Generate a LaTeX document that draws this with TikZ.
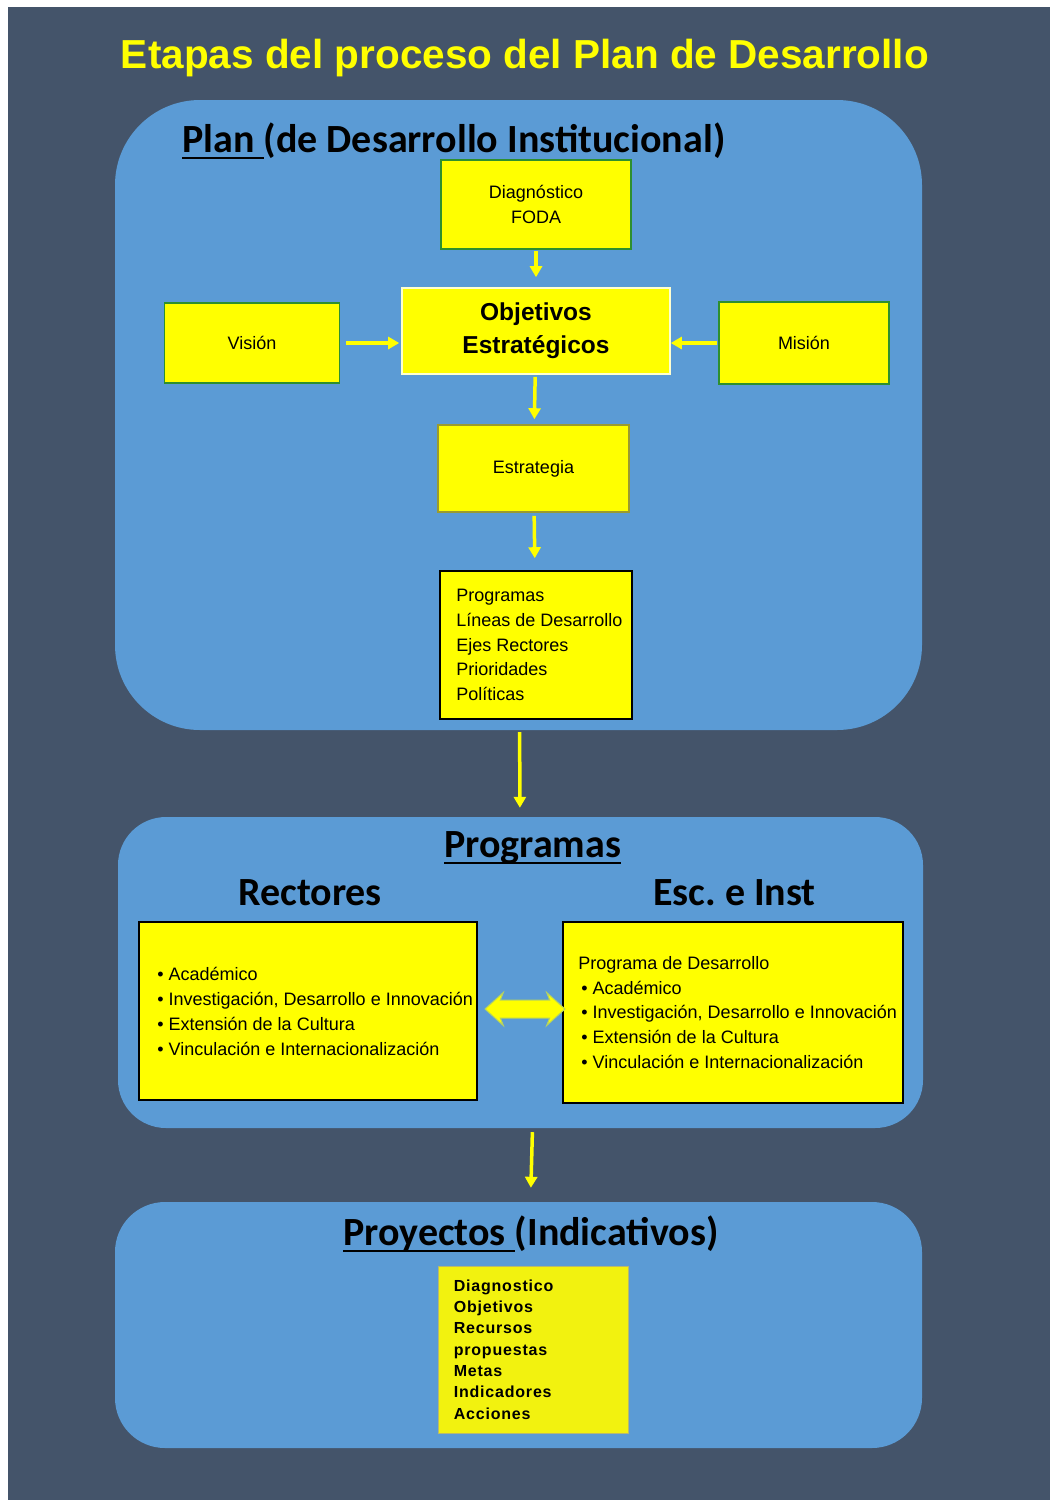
\documentclass[tikz,border=0pt]{standalone}
\usepackage{fontspec}
\setmainfont{Liberation Sans}
\newfontfamily\calibri{Carlito}
\newfontfamily\espaciada[LetterSpace=5]{Liberation Sans}
\usetikzlibrary{arrows.meta,shapes.arrows}
\definecolor{fondo}{HTML}{44546A}
\definecolor{panel}{HTML}{5B9BD5}
\definecolor{amarillo}{HTML}{FFFF00}
\definecolor{amarillob}{HTML}{F2F20F}
\definecolor{verde}{HTML}{2E8F2E}
\definecolor{oliva}{HTML}{9A9A30}
\definecolor{crema}{HTML}{FFFFD0}
\newlength{\anchosub}
\newcommand{\subrayado}[1]{\settowidth{\anchosub}{#1}\rlap{\rule[-6.5pt]{\anchosub}{2pt}}#1}
\tikzset{
  vpanel/.style={fill=panel,inner sep=0pt},
  vcaja/.style={fill=amarillo,line width=1.6pt,inner sep=0pt,align=center,font=\fontsize{18}{25}\selectfont},
  vtexto/.style={anchor=west,align=left,inner sep=0pt,font=\fontsize{18}{25}\selectfont},
  vtitulo/.style={anchor=base west,inner sep=0pt,font=\fontsize{40}{44}\selectfont\calibri\bfseries},
  varr/.style={-{Triangle[length=11pt,width=12pt]},line width=3.5pt,draw=amarillo},
  vdoble/.style={double arrow,fill=amarillo,draw=amarillo!55!panel,line width=1pt,minimum height=80pt,minimum width=32pt,
    double arrow head extend=7.5pt,double arrow tip angle=84,double arrow head indent=3pt,inner xsep=0pt,inner ysep=8.5pt}
}

\begin{document}
\begin{tikzpicture}[x=1pt,y=-1pt]
  \useasboundingbox (0,0) rectangle (1050,1500);
  \fill[white] (0,0) rectangle (1050,1500);
  \fill[fondo] (8,7) rectangle (1050,1500);
  \node[anchor=base,inner sep=0pt,text=amarillo,font=\fontsize{40.5}{45}\selectfont\bfseries] (titulo) at (525,68) {Etapas del proceso del Plan de Desarrollo};

  \node[vpanel,rounded corners=85pt,minimum width=807pt,minimum height=630pt] (plan) at (518.5,415) {};
  \node[vpanel,rounded corners=48pt,minimum width=805pt,minimum height=311pt] (programas) at (520.5,972.5) {};
  \node[vpanel,rounded corners=50pt,minimum width=807pt,minimum height=246pt] (proyectos) at (518.5,1325) {};

  \node[vtitulo] (tplan) at (182,152) {\subrayado{Plan\ }(de Desarrollo Institucional)};
  \node[vtitulo] (tprog) at (444,857) {\subrayado{Programas}};
  \node[vtitulo] (trect) at (238,905) {Rectores};
  \node[vtitulo] (tesc) at (653,905) {Esc.\ e Inst};
  \node[vtitulo] (tproy) at (343,1245) {\subrayado{Proyectos\ }(Indicativos)};

  \node[vcaja,draw=verde,minimum width=190pt,minimum height=89pt] (diag) at (536,204.5) {Diagnóstico\\FODA};
  \node[vcaja,draw=crema,minimum width=268pt,minimum height=86pt,font=\fontsize{24.5}{33}\selectfont\bfseries] (obj) at (536,331) {Objetivos\\Estratégicos};
  \node[vcaja,draw=verde,minimum width=175pt,minimum height=80pt] (vision) at (252,343) {Visión};
  \node[vcaja,draw=verde,minimum width=170pt,minimum height=82pt] (mision) at (804,343) {Misión};
  \node[vcaja,draw=oliva,minimum width=191pt,minimum height=87pt] (estr) at (533.5,468.5) {Estrategia};
  \node[vcaja,draw=black,minimum width=192pt,minimum height=148pt] (progs) at (536,645) {};
  \node[vtexto,font=\fontsize{18}{24.75}\selectfont] (tprogs) at ([xshift=17pt]progs.west) {Programas\\Líneas de Desarrollo\\Ejes Rectores\\Prioridades\\Políticas};

  \node[vcaja,draw=black,minimum width=338pt,minimum height=178pt] (rect) at (308,1011) {};
  \node[vtexto] (trect2) at ([xshift=19pt]rect.west) {\textbullet\ Académico\\\textbullet\ Investigación, Desarrollo e Innovación\\\textbullet\ Extensión de la Cultura\\\textbullet\ Vinculación e Internacionalización};
  \node[vcaja,draw=black,minimum width=340pt,minimum height=181pt] (esc) at (733,1012.5) {};
  \node[vtexto,font=\fontsize{18}{24.75}\selectfont] (tesc2) at ([xshift=16pt]esc.west) {Programa de Desarrollo\\\hspace{3pt}\textbullet\ Académico\\\hspace{3pt}\textbullet\ Investigación, Desarrollo e Innovación\\\hspace{3pt}\textbullet\ Extensión de la Cultura\\\hspace{3pt}\textbullet\ Vinculación e Internacionalización};
  \node[vdoble] (enlace) at (525,1009) {};

  \node[vcaja,fill=amarillob,draw=oliva!70,line width=0.8pt,minimum width=190pt,minimum height=167pt] (proy) at (533,1349.5) {};
  \node[vtexto,font=\fontsize{16}{21.3}\selectfont\espaciada\bfseries] (tproy2) at ([xshift=16pt]proy.west) {Diagnostico\\Objetivos\\Recursos\\propuestas\\Metas\\Indicadores\\Acciones};

  \draw[varr,shorten <=1pt,shorten >=10pt] (diag) -- (obj);
  \draw[varr,shorten <=6pt,shorten >=2pt] (vision) -- (vision -| obj.west);
  \draw[varr,shorten <=1pt] (mision) -- (mision -| obj.east);
  \draw[varr,shorten <=2pt,shorten >=5pt] (obj) -- (estr);
  \draw[varr,shorten <=3pt,shorten >=12pt] (estr) -- (progs);
  \draw[varr,shorten <=2pt,shorten >=9pt] (plan) -- (programas);
  \draw[varr,shorten <=4pt,shorten >=14pt] ([xshift=12pt]programas.south) -- ([xshift=12pt]proyectos.north);
\end{tikzpicture}
\end{document}
